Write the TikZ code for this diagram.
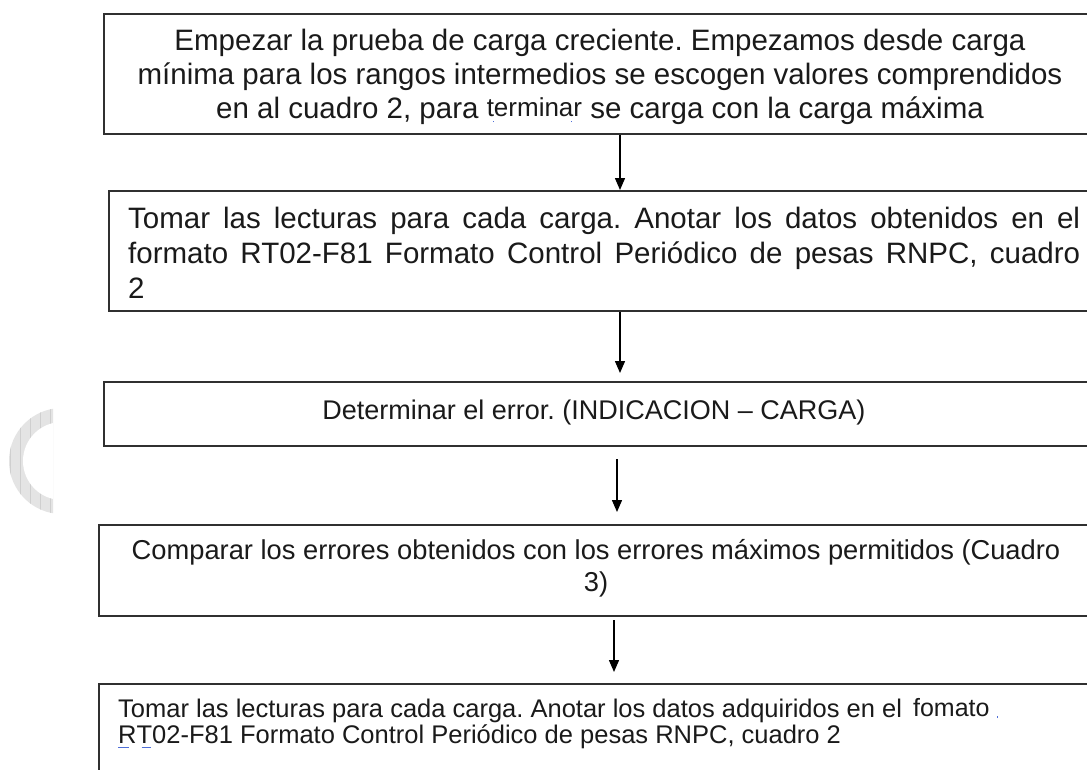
\documentclass[tikz,border=0pt]{standalone}
\usepackage{fontspec}
\setmainfont{Liberation Sans}
\usetikzlibrary{arrows.meta,calc}
\frenchspacing
\definecolor{boxc}{HTML}{303030}
\definecolor{txtc}{HTML}{1A1A1A}
\definecolor{wmark}{HTML}{E4E4E4}
\definecolor{wgrid}{HTML}{CFCFCF}
\definecolor{spell}{HTML}{4F6FD8}
\newcommand{\spul}[2]{\rlap{\hspace{#1}\textcolor{spell}{\rule[-5pt]{#2}{1.2pt}}}}
\newcommand{\spdot}[1]{\rlap{\hspace{#1}\textcolor{spell}{\rule[-6pt]{1.4pt}{1.4pt}}}}
\begin{document}
\begin{tikzpicture}[x=1pt,y=-1pt,
  stepbox/.style={draw=boxc, line width=2pt, anchor=north west, inner sep=0pt, fill=none},
  txt/.style={inner sep=0pt, text=txtc, anchor=base},
  txtl/.style={inner sep=0pt, text=txtc, anchor=base west},
  arr/.style={draw=black, line width=1.4pt, -{Triangle[length=12pt,width=10pt]}}]
\useasboundingbox (0,0) rectangle (1087,769);
\clip (0,0) rectangle (1087,769);
\fill[white] (0,0) rectangle (1087,769);

% watermark crescent
\begin{scope}
  \clip (0,380) rectangle (53,540);
  \begin{scope}
    \clip (62,461) circle (53);
    \fill[wmark] (0,400) rectangle (60,520);
    \draw[wgrid, line width=0.5pt, step=10] (0,400) grid (60,520);
  \end{scope}
  \fill[white] (62,461) circle (39);
\end{scope}

% boxes
\node[stepbox, minimum width=995pt, minimum height=120pt] (b1) at (103,13) {};
\node[stepbox, minimum width=992pt, minimum height=120pt] (b2) at (108,190) {};
\node[stepbox, minimum width=995pt, minimum height=64pt]  (b3) at (103,381) {};
\node[stepbox, minimum width=1000pt, minimum height=91pt] (b4) at (98,524) {};
\node[stepbox, minimum width=1000pt, minimum height=120pt] (b5) at (98,683) {};

% texts
\node[txt] (t1) at (600,50) {\fontsize{29.5}{34}\selectfont
  \begin{tabular}[t]{@{}c@{}}
  Empezar la prueba de carga creciente. Empezamos desde carga\\
  mínima para los rangos intermedios se escogen valores comprendidos\\
  en al cuadro 2, para \raisebox{2pt}{\fontsize{26}{26}\selectfont\spdot{6pt}\spdot{84pt}terminar} se carga con la carga máxima
  \end{tabular}};

\node[txtl] (t2) at (128,228) {\fontsize{29.5}{35}\selectfont
  \begin{tabular}[t]{@{}l@{}}
  \makebox[952pt][s]{Tomar las lecturas para cada carga. Anotar los datos obtenidos en el}\\
  \makebox[952pt][s]{formato RT02-F81 Formato Control Periódico de pesas RNPC, cuadro}\\
  2
  \end{tabular}};

\node[txt] (t3) at (594,419) {\fontsize{27}{30}\selectfont Determinar el error. (INDICACION – CARGA)};

\node[txt] (t4) at (596,559) {\fontsize{27.3}{32}\selectfont
  \begin{tabular}[t]{@{}c@{}}
  Comparar los errores obtenidos con los errores máximos permitidos (Cuadro\\
  3)
  \end{tabular}};

\node[txtl] (t5) at (118,717) {\fontsize{25.5}{25}\selectfont
  \begin{tabular}[t]{@{}l@{}}
  Tomar las lecturas para cada carga. Anotar los datos adquiridos en el \hspace{4pt}\raisebox{1pt}{\fontsize{25}{25}\selectfont fomato}\hspace{7pt}\textcolor{spell}{\rule[-1pt]{1.6pt}{2pt}}\\
  \spul{0pt}{11pt}R\spul{5pt}{9pt}T02-F81 Formato Control Periódico de pesas RNPC, cuadro 2
  \end{tabular}};

% arrows
\coordinate (xa) at (620,0);
\coordinate (xb) at (617,0);
\coordinate (xc) at (614,0);
\path (b3.north -| xa) ++(0,-8) coordinate (e2);
\path (b4.north -| xb) ++(0,-12) coordinate (e3);
\path (b5.north -| xc) ++(0,-11) coordinate (e4);
\draw[arr] (b1.south -| xa) -- (b2.north -| xa);
\draw[arr] (b2.south -| xa) -- (e2);
\path (b3.south -| xb) ++(0,12) coordinate (s3);
\draw[arr] (s3) -- (e3);
\path (b4.south -| xc) ++(0,3) coordinate (s4);
\draw[arr] (s4) -- (e4);
\end{tikzpicture}
\end{document}
